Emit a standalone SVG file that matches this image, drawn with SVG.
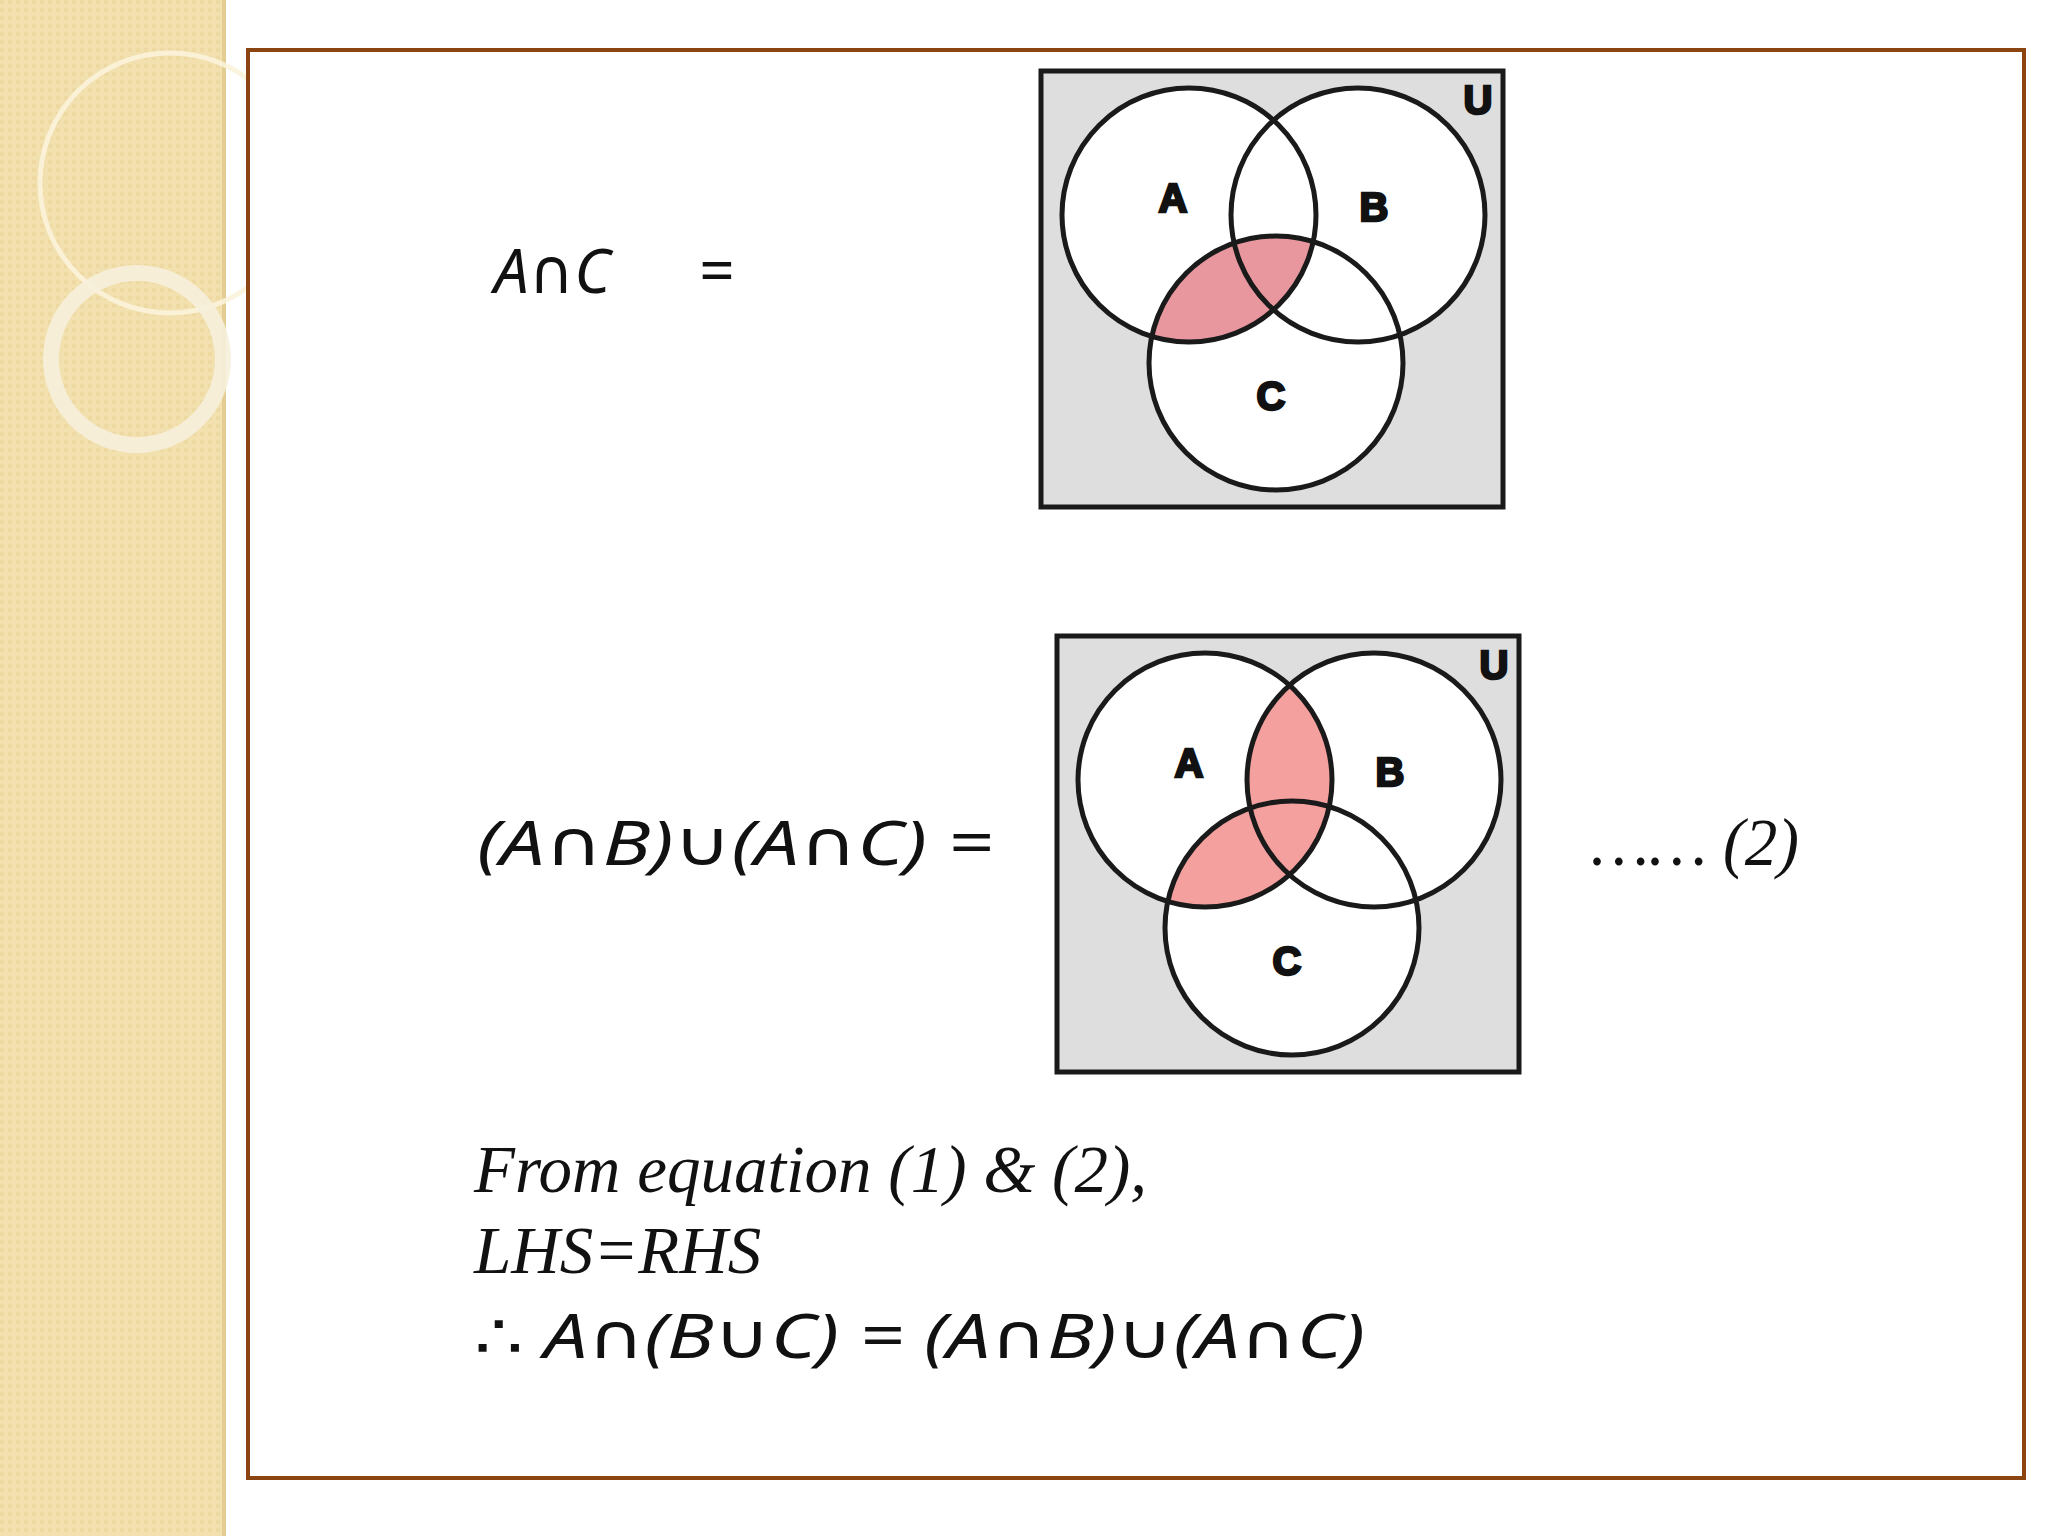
<svg xmlns="http://www.w3.org/2000/svg" width="2048" height="1536" viewBox="0 0 2048 1536">
<style>
.c{fill:none;stroke:#1a1a1a;stroke-width:5}
.w{fill:#fff}
.lab{font-family:"Liberation Sans",Arial,sans-serif;font-weight:bold;font-size:40px;fill:#111;stroke:#111;stroke-width:2.5;text-anchor:middle}
.m{font-family:"Noto Sans","DejaVu Sans",sans-serif;font-style:italic;font-size:62px;fill:#111}
.t{font-family:"Liberation Serif","Times New Roman",serif;font-style:italic;font-size:67px;fill:#111}
</style>
<defs>
<pattern id="tex" width="8" height="8" patternUnits="userSpaceOnUse"><rect width="8" height="8" fill="#f2e0ae"/><rect width="4" height="4" fill="#efd9a2"/></pattern>
<clipPath id="cA"><circle cx="1189" cy="215" r="127"/></clipPath>
<g id="venn">
<rect x="1041" y="71" width="462" height="436" fill="#dedede" stroke="#1a1a1a" stroke-width="5"/>
<circle class="w" cx="1189" cy="215" r="127"/><circle class="w" cx="1358" cy="215" r="127"/><circle class="w" cx="1276" cy="363" r="127"/>
</g>
<g id="vennlines">
<circle class="c" cx="1189" cy="215" r="127"/><circle class="c" cx="1358" cy="215" r="127"/><circle class="c" cx="1276" cy="363" r="127"/>
<text class="lab" x="1173" y="212">A</text><text class="lab" x="1374" y="221">B</text><text class="lab" x="1271" y="410">C</text><text class="lab" x="1478" y="114">U</text>
</g>
</defs>
<rect width="2048" height="1536" fill="#fff"/>
<g id="sidebar">
<rect x="0" y="0" width="226" height="1536" fill="url(#tex)"/>
<rect x="222" y="0" width="4" height="1536" fill="#e3cd92"/>
<circle cx="170" cy="183" r="130" fill="none" stroke="#fbf3dc" stroke-width="5" opacity="0.9"/>
<circle cx="137" cy="359" r="86" fill="none" stroke="#f6efdc" stroke-width="16" opacity="0.9"/>
</g>
<rect id="frame" x="248" y="50" width="1776" height="1428" fill="#fff" stroke="#8b4513" stroke-width="4"/>
<g id="diagram1">
<use href="#venn"/>
<g clip-path="url(#cA)"><circle cx="1276" cy="363" r="127" fill="#e8979e"/></g>
<use href="#vennlines"/>
</g>
<g id="diagram2" transform="translate(16,565)">
<use href="#venn"/>
<g clip-path="url(#cA)"><circle cx="1276" cy="363" r="127" fill="#f4a09e"/><circle cx="1358" cy="215" r="127" fill="#f4a09e"/></g>
<use href="#vennlines"/>
</g>
<g id="texts">
<text class="m" x="494" y="293">A∩C</text>
<text class="m" x="698" y="293" font-style="normal">=</text>
<text class="m" x="477" y="865" textLength="516" lengthAdjust="spacingAndGlyphs">(A∩B)∪(A∩C) =</text>
<text class="t" x="1591" y="865" textLength="208" lengthAdjust="spacingAndGlyphs">…… (2)</text>
<text class="t" x="474" y="1192">From equation (1) &amp; (2),</text>
<text class="t" x="474" y="1273">LHS=RHS</text>
<text class="m" x="474" y="1358" textLength="891" lengthAdjust="spacingAndGlyphs">∴ A∩(B∪C) = (A∩B)∪(A∩C)</text>
</g>
</svg>
